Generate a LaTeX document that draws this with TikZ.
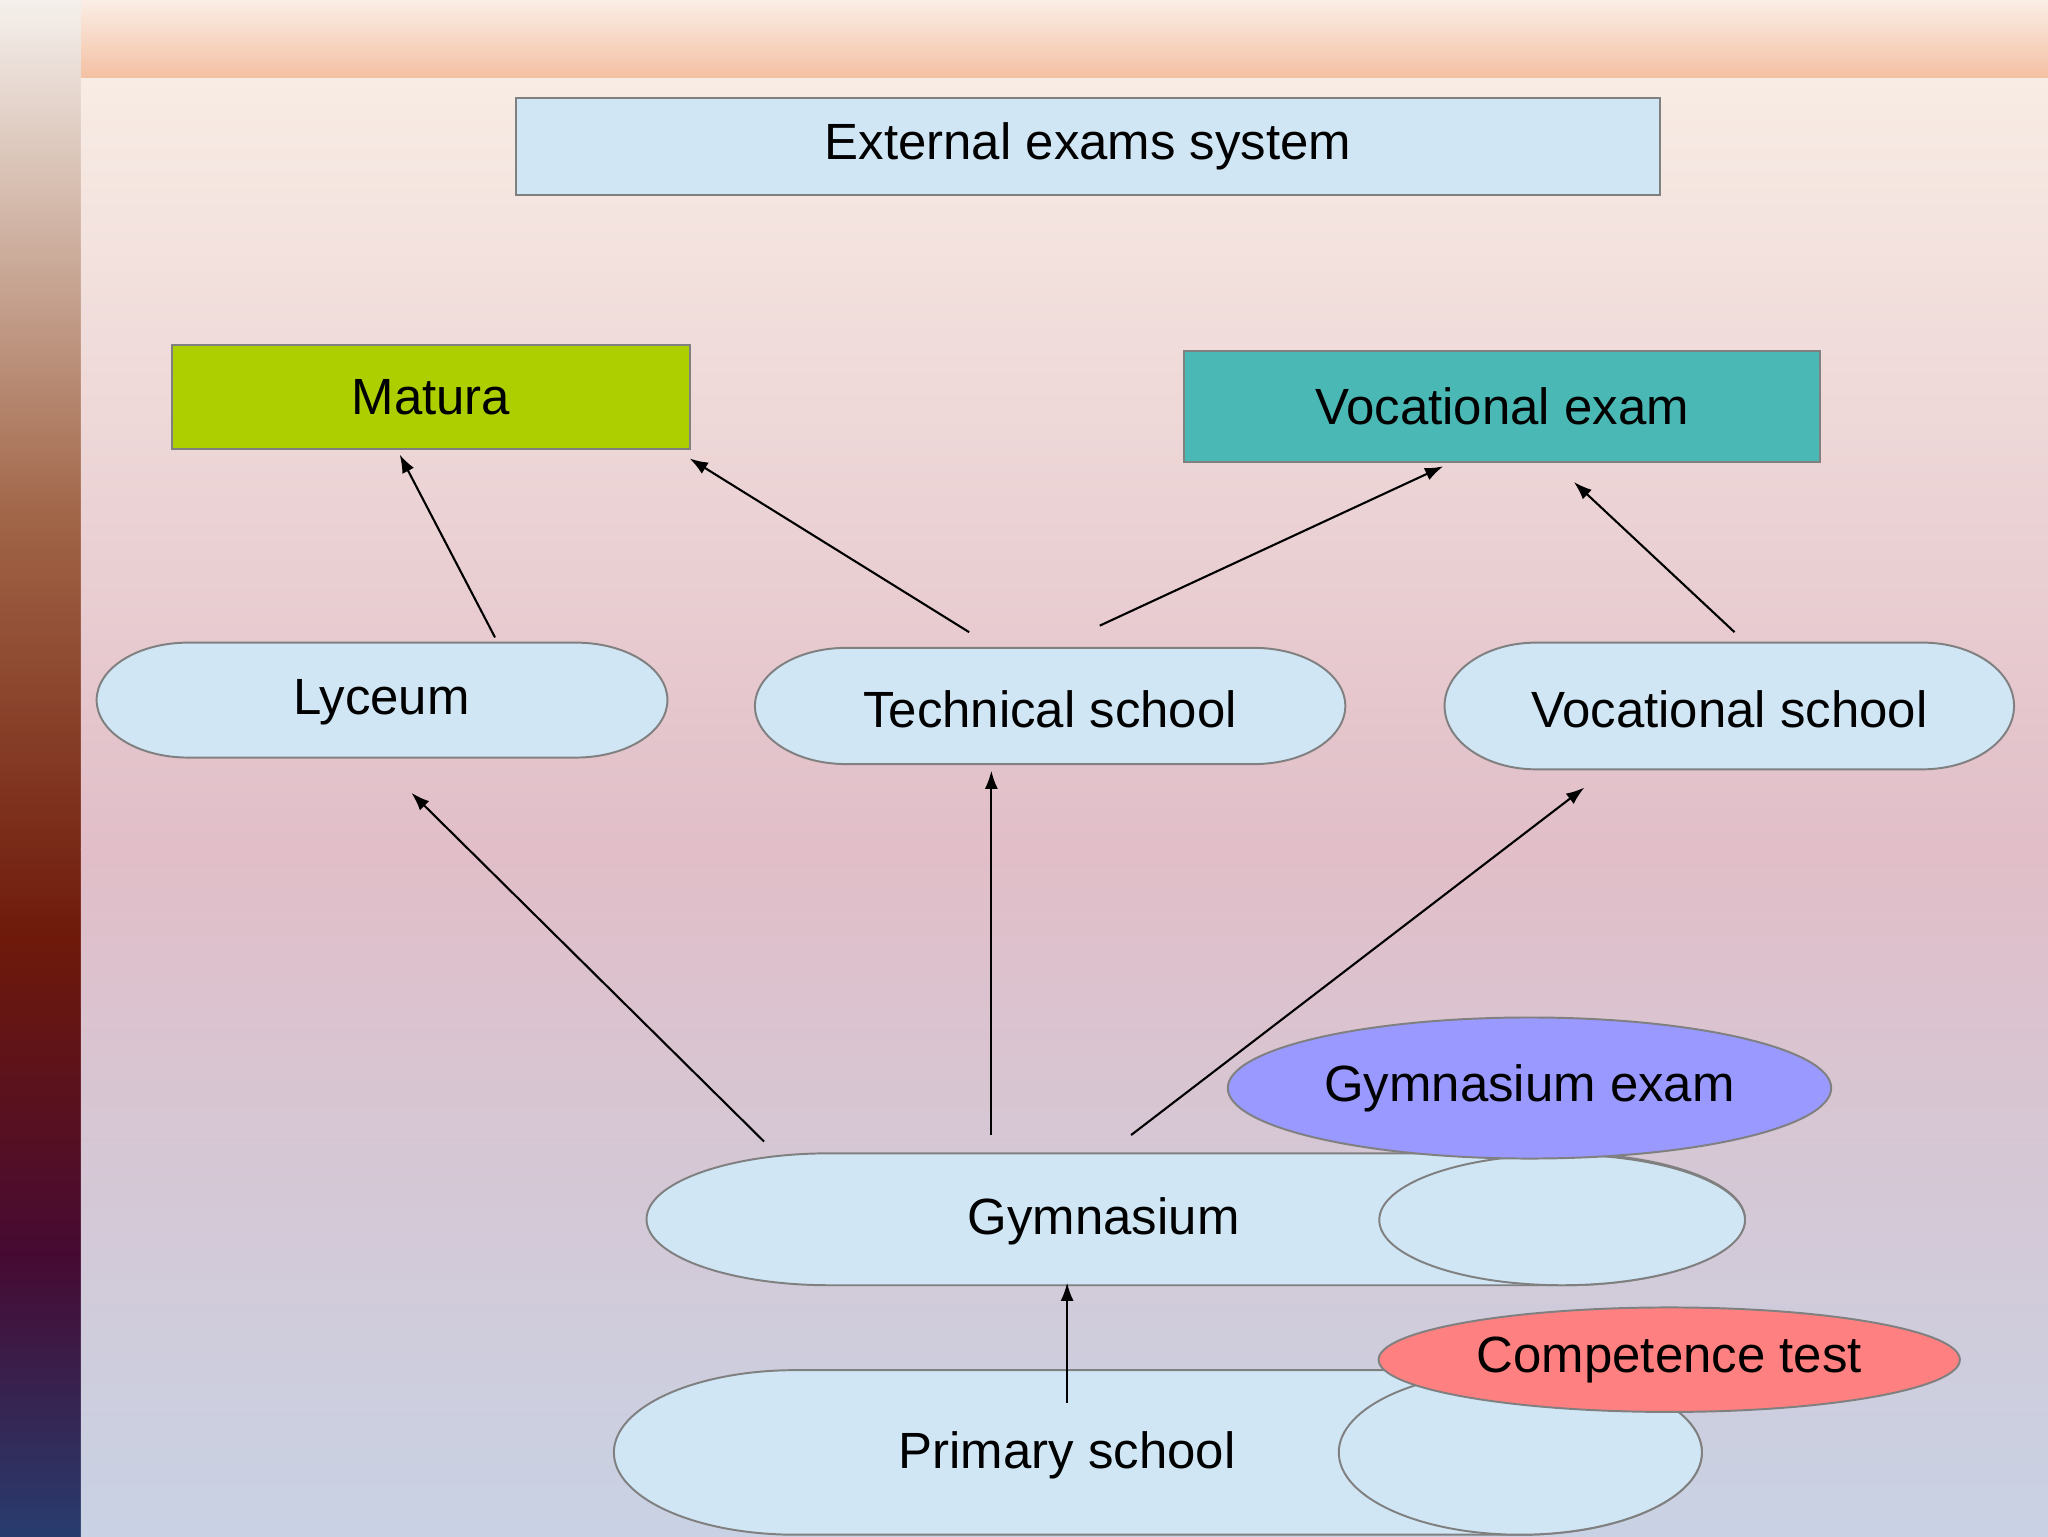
\documentclass[tikz,border=0pt]{standalone}
\usepackage{fontspec}
\setmainfont{Liberation Sans}
\usetikzlibrary{shapes.geometric,arrows.meta}
\definecolor{boxblue}{RGB}{208,230,245}
\definecolor{matura}{RGB}{173,207,0}
\definecolor{voc}{RGB}{74,184,180}
\definecolor{gex}{RGB}{153,153,255}
\definecolor{comp}{RGB}{255,128,128}
\definecolor{edge}{RGB}{128,128,128}
\newcommand{\mypill}[5]{% x1 y1 x2 y2 rx
  \pgfmathsetmacro{\ry}{(#4-#2)/2}
  \draw[pillst] (#1+#5,#2) -- (#3-#5,#2) arc[start angle=90,end angle=-90,x radius=#5,y radius=-\ry]
   -- (#1+#5,#4) arc[start angle=270,end angle=90,x radius=#5,y radius=-\ry] -- cycle;}
\begin{document}
\begin{tikzpicture}[x=1pt,y=-1pt,
  txt/.style={font=\fontsize{39}{42}\selectfont,text=black},
  rect/.style={draw=edge,line width=1.5pt,inner sep=0pt},
  pillst/.style={draw=edge,line width=1.5pt,fill=boxblue},
  ell/.style={ellipse,draw=edge,line width=1.5pt,inner sep=0pt},
  arr/.style={-{Latex[length=14pt,width=10pt]},line width=1.6pt}]
\useasboundingbox (0,0) rectangle (1568,1176);
% background
\shade[top color={rgb,255:red,250;green,238;blue,230},bottom color={rgb,255:red,244;green,190;blue,160}] (0,0) rectangle (1568,62);
\shade[top color={rgb,255:red,245;green,240;blue,236},bottom color={rgb,255:red,160;green,100;blue,70}] (0,0) rectangle (62,400);
\shade[top color={rgb,255:red,160;green,100;blue,70},bottom color={rgb,255:red,110;green,25;blue,10}] (0,400) rectangle (62,720);
\shade[top color={rgb,255:red,110;green,25;blue,10},bottom color={rgb,255:red,70;green,10;blue,50}] (0,720) rectangle (62,960);
\shade[top color={rgb,255:red,70;green,10;blue,50},bottom color={rgb,255:red,40;green,60;blue,110}] (0,960) rectangle (62,1176);
\shade[top color={rgb,255:red,248;green,236;blue,228},bottom color={rgb,255:red,225;green,190;blue,200}] (62,60) rectangle (1568,650);
\shade[top color={rgb,255:red,225;green,190;blue,200},bottom color={rgb,255:red,200;green,210;blue,228}] (62,650) rectangle (1568,1176);
% boxes
\node[rect,fill=boxblue,minimum width=876pt,minimum height=74pt,txt] (ext) at (833,112) {External exams system};
\node[rect,fill=matura,minimum width=396pt,minimum height=80pt,txt] (mat) at (330,304) {Matura};
\node[rect,fill=voc,minimum width=487pt,minimum height=85pt,txt] (vex) at (1150,311) {Vocational exam};
% pills
\mypill{74}{492}{511}{580}{70} \node[txt] (lyc) at (292,538) {Lyceum};
\mypill{578}{496}{1030}{585}{70} \node[txt] (tec) at (804,543) {Technical school};
\mypill{1106}{492}{1542}{589}{70} \node[txt] (vsc) at (1324,543) {Vocational school};
\mypill{495}{883}{1336}{984}{140} \node[txt] (gym) at (845,935) {Gymnasium};
\node[ell,fill=boxblue,minimum width=280pt,minimum height=100pt] (gymr) at (1196,934) {};
\node[ell,fill=gex,minimum width=462pt,minimum height=108pt,txt] (gex) at (1171,833) {Gymnasium exam};
\mypill{470}{1049}{1303}{1175}{139} \node[txt] (pri) at (817,1114) {Primary school};
\node[ell,fill=boxblue,minimum width=278pt,minimum height=126pt] (prir) at (1164,1112) {};
\node[ell,fill=comp,minimum width=445pt,minimum height=80pt,txt] (comp) at (1278,1041) {Competence test};
% arrow coordinates
\coordinate (a1s) at (379,488); \coordinate (a1e) at (306,348);
\coordinate (a2s) at (742,484); \coordinate (a2e) at (528,351);
\coordinate (a3s) at (842,479); \coordinate (a3e) at (1105,357);
\coordinate (a4s) at (1328,484); \coordinate (a4e) at (1205,369);
\coordinate (b1s) at (585,874); \coordinate (b1e) at (315,607);
\coordinate (b2s) at (759,869); \coordinate (b2e) at (759,590);
\coordinate (b3s) at (866,869); \coordinate (b3e) at (1213,603);
\coordinate (c1s) at (817,1074); \coordinate (c1e) at (817,982);
\foreach \s/\e in {a1s/a1e,a2s/a2e,a3s/a3e,a4s/a4e,b1s/b1e,b2s/b2e,b3s/b3e,c1s/c1e}
  \draw[arr] (\s) -- (\e);
\end{tikzpicture}
\end{document}
